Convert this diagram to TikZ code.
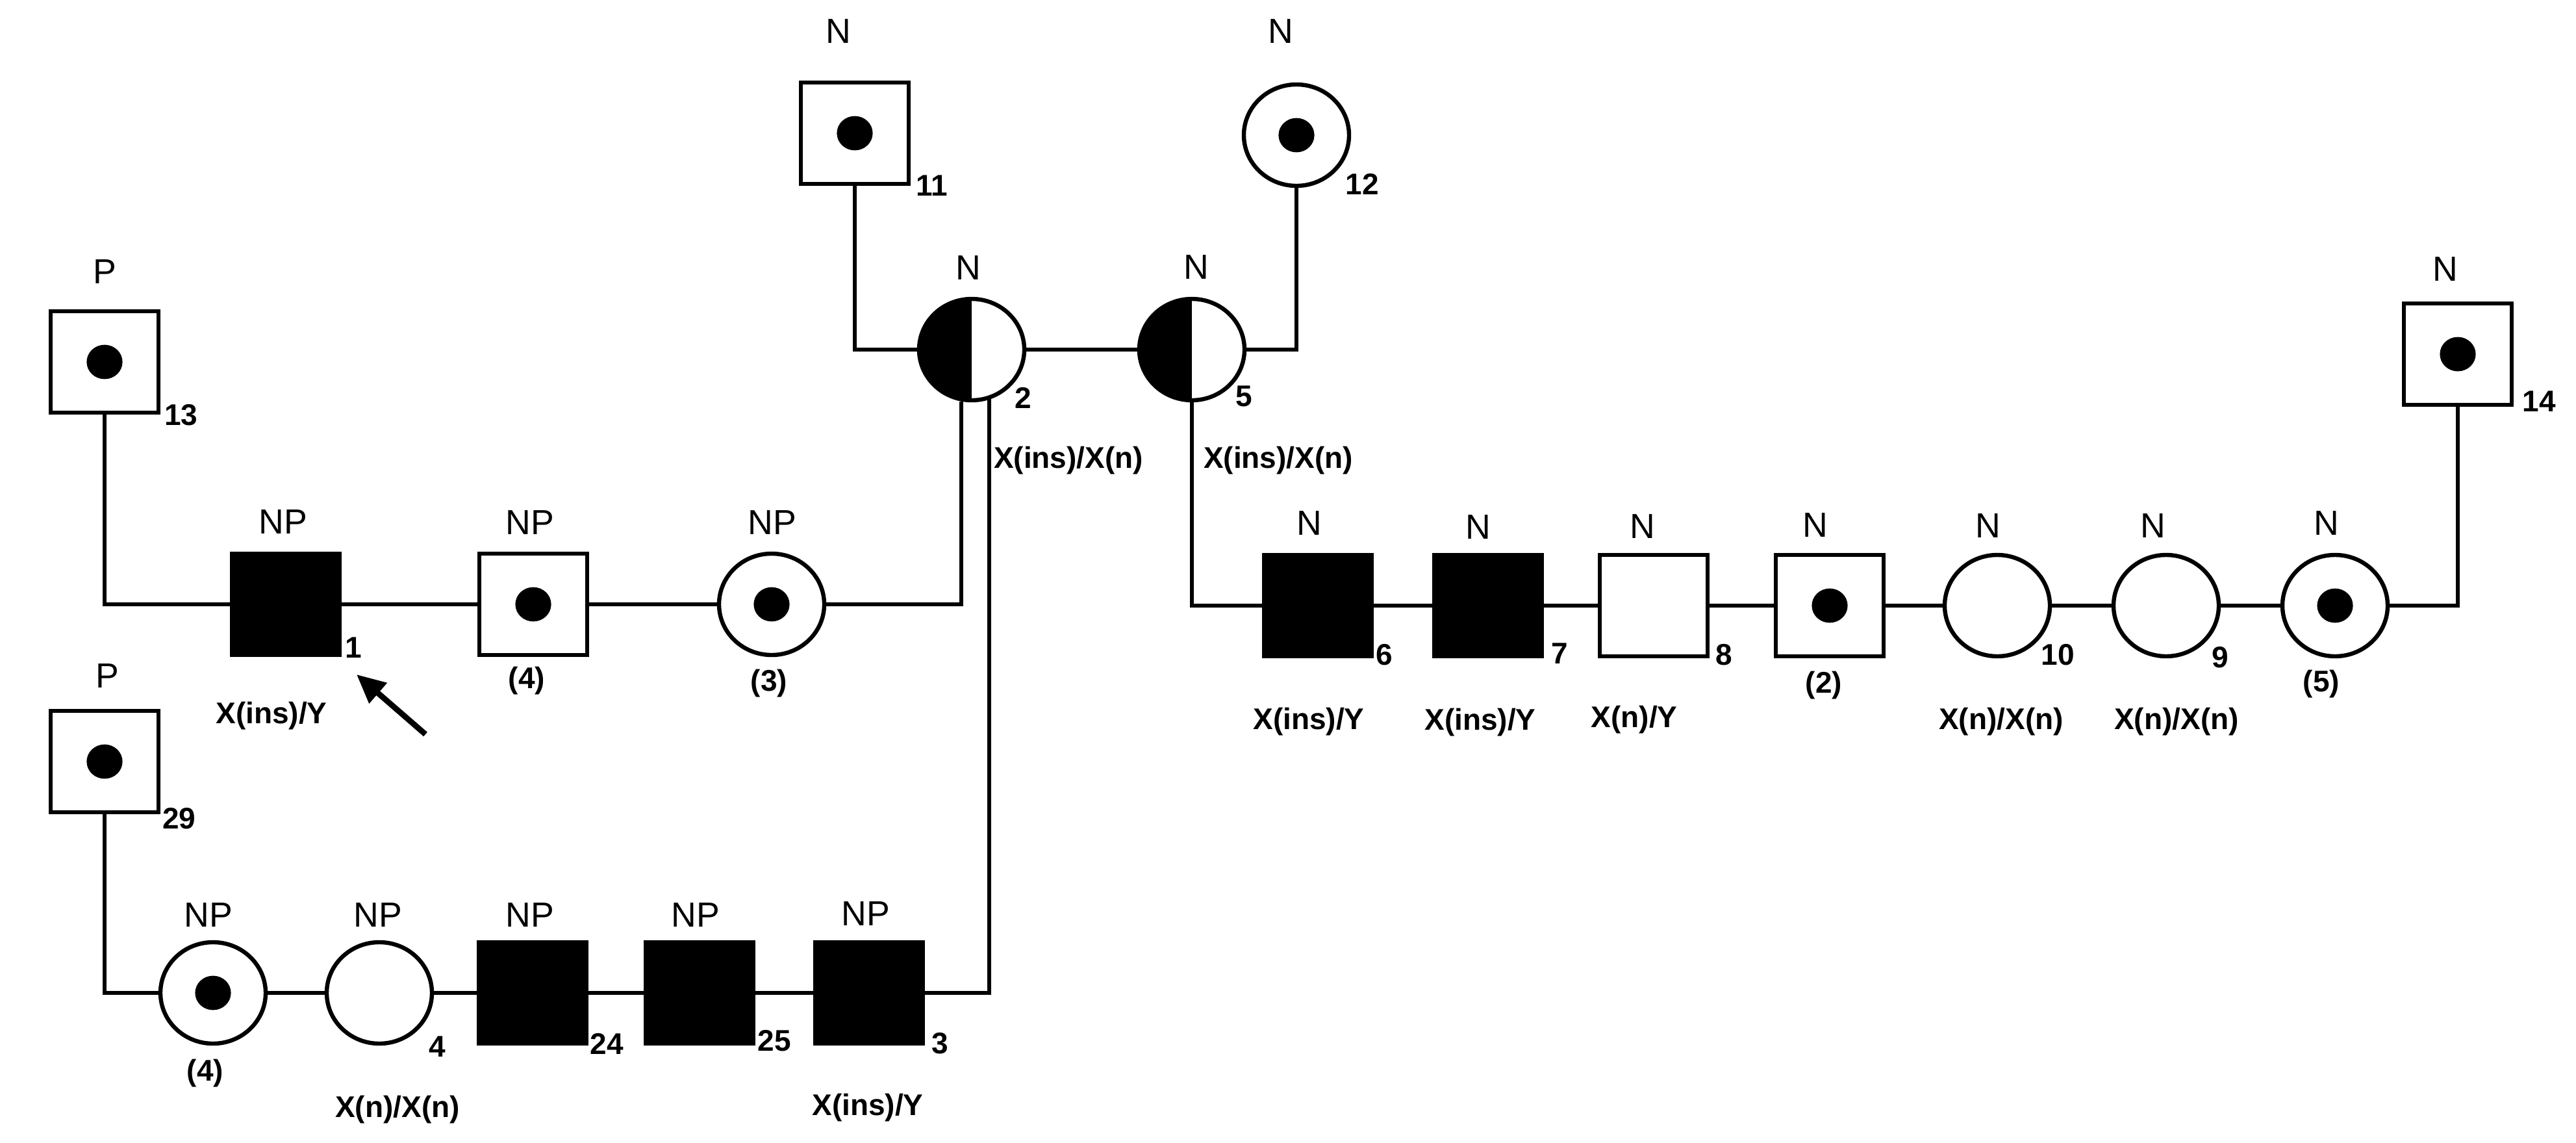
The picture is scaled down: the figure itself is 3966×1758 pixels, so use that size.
\documentclass[tikz,border=0pt]{standalone}
\usepackage{fontspec}
\setmainfont{Liberation Sans}
\usetikzlibrary{shapes.geometric,arrows.meta}
\tikzset{
  sq/.style={draw=black,line width=1.6pt,fill=white,rectangle,minimum width=41.5pt,minimum height=39pt,inner sep=0pt},
  fsq/.style={sq,fill=black},
  ci/.style={draw=black,line width=1.6pt,fill=white,ellipse,minimum width=40.5pt,minimum height=39pt,inner sep=0pt},
  half/.style={ci,path picture={\fill[black] (path picture bounding box.south west) rectangle (path picture bounding box.north);}},
  dotmark/.style={fill=black,ellipse,minimum width=13.8pt,minimum height=13.2pt,inner sep=0pt},
  conn/.style={line width=1.35pt,line join=miter},
  lab/.style={inner sep=0pt,font=\fontsize{13.4pt}{16pt}\selectfont},
  num/.style={inner sep=0pt,font=\fontsize{11.5pt}{14pt}\selectfont\bfseries},
}
\begin{document}
\begin{tikzpicture}[x=0.25pt,y=-0.25pt]
\useasboundingbox (0,0) rectangle (3966,1758);
% top generation
\node[sq] (n11) at (1316,205) {};
\node[ci] (n12) at (1996,208) {};
\node[half] (n2) at (1496,538) {};
\node[half] (n5) at (1835,538) {};
\node[sq] (n13) at (161,557) {};
\node[sq] (n14) at (3784,545) {};
% row 1 left
\node[fsq] (n1) at (440,930) {};
\node[sq] (n4a) at (821,930) {};
\node[ci] (n3a) at (1188,930) {};
% row 1 right
\node[fsq] (n6) at (2029,932) {};
\node[fsq] (n7) at (2291,932) {};
\node[sq] (n8) at (2546,932) {};
\node[sq] (n2b) at (2817,932) {};
\node[ci] (n10) at (3075,932) {};
\node[ci] (n9) at (3335,932) {};
\node[ci] (n5b) at (3595,932) {};
% row 2
\node[sq] (n29) at (161,1172) {};
\node[ci] (n4b) at (328,1528) {};
\node[ci] (n4) at (584,1528) {};
\node[fsq] (n24) at (820,1528) {};
\node[fsq] (n25) at (1077,1528) {};
\node[fsq] (n3) at (1338,1528) {};
% dots
\node[dotmark] (d11) at (n11.center) {};
\node[dotmark] (d12) at (n12.center) {};
\node[dotmark] (d13) at (n13.center) {};
\node[dotmark] (d14) at (n14.center) {};
\node[dotmark] (d4a) at (n4a.center) {};
\node[dotmark] (d3a) at (n3a.center) {};
\node[dotmark] (d2b) at (n2b.center) {};
\node[dotmark] (d5b) at (n5b.center) {};
\node[dotmark] (d29) at (n29.center) {};
\node[dotmark] (d4b) at (n4b.center) {};
% connectors
\coordinate (c2a) at ([xshift=-4pt,yshift=0.3pt]n2.south);
\coordinate (c2b) at ([xshift=6.75pt,yshift=1.2pt]n2.south);
\draw[conn] (n11) |- (n2);
\draw[conn] (n12) |- (n5);
\draw[conn] (n2) -- (n5);
\draw[conn] (n13) |- (n1);
\draw[conn] (n1) -- (n4a);
\draw[conn] (n4a) -- (n3a);
\draw[conn] (n3a) -| (c2a);
\draw[conn] (n6) -| (n5);
\draw[conn] (n6) -- (n7);
\draw[conn] (n7) -- (n8);
\draw[conn] (n8) -- (n2b);
\draw[conn] (n2b) -- (n10);
\draw[conn] (n10) -- (n9);
\draw[conn] (n9) -- (n5b);
\draw[conn] (n5b) -| (n14);
\draw[conn] (n29) |- (n4b);
\draw[conn] (n4b) -- (n4);
\draw[conn] (n4) -- (n24);
\draw[conn] (n24) -- (n25);
\draw[conn] (n25) -- (n3);
\draw[conn] (n3) -| (c2b);
% arrow
\coordinate (arrtail) at (655,1130);
\coordinate (arrtip) at (549,1038);
\draw[line width=2.2pt,-{Triangle[length=11pt,width=10pt]}] (arrtail) -- (arrtip);
% status labels
\node[lab] (t11) at (1291,48) {N};
\node[lab] (t12) at (1972,48) {N};
\node[lab] (t13) at (161,418) {P};
\node[lab] (t2) at (1491,412) {N};
\node[lab] (t5) at (1842,411) {N};
\node[lab] (t14) at (3765,414) {N};
\node[lab] (t1) at (436,803) {NP};
\node[lab] (t4a) at (816,804) {NP};
\node[lab] (t3a) at (1189,804) {NP};
\node[lab] (t6) at (2016,805) {N};
\node[lab] (t7) at (2276,811) {N};
\node[lab] (t8) at (2529,810) {N};
\node[lab] (t2b) at (2795,808) {N};
\node[lab] (t10) at (3061,809) {N};
\node[lab] (t9) at (3315,809) {N};
\node[lab] (t5b) at (3582,805) {N};
\node[lab] (t29) at (165,1040) {P};
\node[lab] (t4b) at (321,1408) {NP};
\node[lab] (t4) at (582,1408) {NP};
\node[lab] (t24) at (816,1408) {NP};
\node[lab] (t25) at (1071,1408) {NP};
\node[lab] (t3) at (1333,1406) {NP};
% numbers
\node[num] (k13) at (279,639) {13};
\node[num] (k11) at (1435,286) {11};
\node[num] (k12) at (2097,283) {12};
\node[num] (k2) at (1575,612) {2};
\node[num] (k5) at (1915,610) {5};
\node[num] (k14) at (3909,618) {14};
\node[num] (k1) at (544,997) {1};
\node[num] (k6) at (2131,1008) {6};
\node[num] (k7) at (2401,1006) {7};
\node[num] (k8) at (2654,1008) {8};
\node[num] (k10) at (3168,1008) {10};
\node[num] (k9) at (3418,1012) {9};
\node[num] (k29) at (276,1260) {29};
\node[num] (k4) at (673,1611) {4};
\node[num] (k24) at (934,1606) {24};
\node[num] (k25) at (1192,1602) {25};
\node[num] (k3) at (1447,1606) {3};
% counts
\node[num] (p4a) at (811,1048) {(4)};
\node[num] (p3a) at (1184,1052) {(3)};
\node[num] (p2b) at (2808,1055) {(2)};
\node[num] (p5b) at (3574,1053) {(5)};
\node[num] (p4b) at (316,1652) {(4)};
% genotypes
\node[num] (g1) at (418,1102) {X(ins)/Y};
\node[num] (g2) at (1645,709) {X(ins)/X(n)};
\node[num] (g5) at (1968,709) {X(ins)/X(n)};
\node[num] (g6) at (2015,1111) {X(ins)/Y};
\node[num] (g7) at (2279,1112) {X(ins)/Y};
\node[num] (g8) at (2516,1108) {X(n)/Y};
\node[num] (g10) at (3081,1111) {X(n)/X(n)};
\node[num] (g9) at (3351,1111) {X(n)/X(n)};
\node[num] (g4) at (612,1708) {X(n)/X(n)};
\node[num] (g3) at (1336,1705) {X(ins)/Y};
\end{tikzpicture}
\end{document}
